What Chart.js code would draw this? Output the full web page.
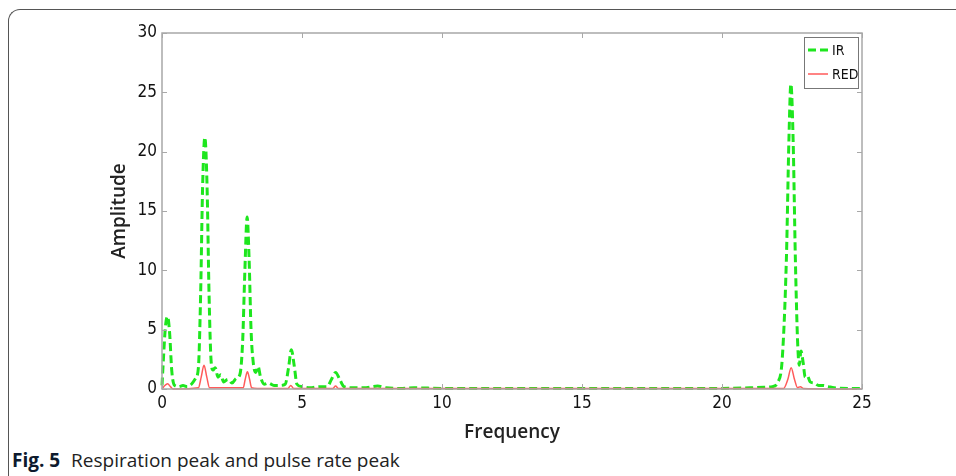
<!DOCTYPE html>
<html>
<head>
<meta charset="utf-8">
<script src="https://cdn.jsdelivr.net/npm/chart.js@4.4.1/dist/chart.umd.min.js"></script>
<style>
  body { margin: 0; background: #fff; width: 956px; height: 476px; overflow: hidden; position: relative; }
  #frame {
    position: absolute; left: 8px; top: 9px; width: 1000px; height: 520px;
    border-top: 1.5px solid #555; border-left: 1.5px solid #555;
    border-top-left-radius: 12px;
  }
  #wrap { position: absolute; left: 0; top: 0; }
  #caption {
    position: absolute; left: 12px; top: 447px;
    font-family: 'Open Sans', sans-serif; font-size: 19px; color: #222;
  }
  #caption b { color: #0d1a2e; margin-right: 6px; }
</style>
</head>
<body>
<div id="frame"></div>
<div id="wrap"><canvas id="fftChart" width="956" height="445"></canvas></div>
<div id="caption"><b>Fig. 5</b> Respiration peak and pulse rate peak</div>
<script>
// IR spectrum (green dashed)
const irFreq = [0, 0.05, 0.12, 0.2, 0.27, 0.35, 0.45, 0.6, 0.75, 0.9, 1.05, 1.2, 1.3, 1.38, 1.45, 1.53, 1.61, 1.68, 1.75, 1.82,
  1.9, 2.0, 2.1, 2.2, 2.35, 2.5, 2.65, 2.78, 2.88, 2.96, 3.04, 3.11, 3.18, 3.26, 3.35, 3.43, 3.52, 3.65, 3.8, 4.0,
  4.2, 4.4, 4.52, 4.62, 4.72, 4.82, 5.0, 5.3, 5.6, 5.9, 6.05, 6.2, 6.35, 6.5, 6.8, 7.2, 7.7, 8.0, 8.5, 9.0,
  10, 12, 15, 18, 20, 21, 21.5, 21.8, 22.0, 22.15, 22.3, 22.39, 22.46, 22.54, 22.62, 22.7, 22.76, 22.82, 22.9, 22.97,
  23.05, 23.15, 23.3, 23.45, 23.6, 23.8, 24.0, 24.5, 25];
const irAmp = [0.3, 2.5, 5.2, 6.1, 4.8, 1.5, 0.3, 0.2, 0.3, 0.2, 0.4, 0.9, 1.8, 8, 17, 21.2, 17, 8, 2.5, 1.6,
  1.8, 1.0, 1.2, 0.6, 0.8, 0.5, 0.9, 1.2, 4, 10, 14.5, 11, 5, 2.2, 1.4, 1.9, 1.0, 0.4, 0.5, 0.3,
  0.3, 0.4, 1.8, 3.3, 2.0, 0.4, 0.2, 0.1, 0.2, 0.2, 0.8, 1.4, 0.8, 0.2, 0.1, 0.1, 0.25, 0.1, 0.05, 0.1,
  0.05, 0.05, 0.05, 0.05, 0.05, 0.1, 0.15, 0.2, 0.6, 2.5, 11, 21, 25.7, 21, 11, 4, 2, 3.2, 2.2, 1.0,
  1.1, 0.6, 0.5, 0.3, 0.3, 0.2, 0.1, 0.05, 0.05];

// RED spectrum (red solid)
const redFreq = [0, 0.1, 0.2, 0.3, 0.4, 1.3, 1.4, 1.5, 1.6, 1.7, 2.9, 2.97, 3.05, 3.13, 3.2, 3.4, 4.5, 4.6, 4.7,
  6.1, 6.2, 6.3, 22.2, 22.35, 22.47, 22.59, 22.7, 22.8, 22.9, 25];
const redAmp = [0, 0.3, 0.45, 0.2, 0, 0.1, 1.0, 2.0, 1.0, 0.1, 0.1, 0.8, 1.45, 0.8, 0.1, 0.05, 0.05, 0.3, 0.05,
  0.05, 0.25, 0.05, 0.05, 0.8, 1.8, 0.8, 0.1, 0.2, 0.05, 0];

const xTicks = [0, 5, 10, 15, 20, 25];
const yTicks = [0, 5, 10, 15, 20, 25, 30];
const legendLabels = ['IR', 'RED'];

const tickFont = { family: "'DejaVu Sans Condensed', 'Liberation Sans Narrow', sans-serif", size: 17 };

const boxPlugin = {
  id: 'box',
  afterDraw(chart) {
    const { ctx, chartArea: a, scales: { x, y } } = chart;
    ctx.save();
    ctx.strokeStyle = '#a8a8a8';
    ctx.lineWidth = 1.5;
    ctx.strokeRect(a.left, a.top, a.right - a.left, a.bottom - a.top);
    ctx.lineWidth = 1;
    ctx.beginPath();
    xTicks.forEach(v => {
      const px = Math.round(x.getPixelForValue(v)) + 0.5;
      ctx.moveTo(px, a.bottom); ctx.lineTo(px, a.bottom - 5);
      ctx.moveTo(px, a.top); ctx.lineTo(px, a.top + 5);
    });
    yTicks.forEach(v => {
      const py = Math.round(y.getPixelForValue(v)) + 0.5;
      ctx.moveTo(a.left, py); ctx.lineTo(a.left + 5, py);
      ctx.moveTo(a.right, py); ctx.lineTo(a.right - 5, py);
    });
    ctx.stroke();

    // legend box in the top-right corner
    const lx = a.right - 58, ly = a.top + 4, lw = 54, lh = 51;
    ctx.fillStyle = '#fff';
    ctx.fillRect(lx, ly, lw, lh);
    ctx.strokeStyle = '#777';
    ctx.lineWidth = 1;
    ctx.strokeRect(lx + 0.5, ly + 0.5, lw, lh);
    chart.data.datasets.forEach((ds, i) => {
      const yy = ly + 13 + i * 24;
      ctx.strokeStyle = ds.borderColor;
      ctx.lineWidth = ds.borderWidth;
      ctx.setLineDash(ds.borderDash || []);
      ctx.beginPath();
      ctx.moveTo(lx + 4, yy); ctx.lineTo(lx + 24, yy);
      ctx.stroke();
      ctx.setLineDash([]);
      ctx.fillStyle = '#111';
      ctx.font = `14px ${tickFont.family}`;
      ctx.textBaseline = 'middle';
      ctx.fillText(legendLabels[i], lx + 28, yy + 1);
    });
    ctx.restore();
  }
};

const ctx = document.getElementById('fftChart').getContext('2d');
new Chart(ctx, {
  type: 'line',
  data: {
    datasets: [
      {
        label: legendLabels[0],
        data: irFreq.map((f, i) => ({ x: f, y: irAmp[i] })),
        borderColor: '#1ee61e',
        borderWidth: 3,
        borderDash: [8, 4],
        pointRadius: 0,
        cubicInterpolationMode: 'monotone',
        clip: false,
        order: 1
      },
      {
        label: legendLabels[1],
        data: redFreq.map((f, i) => ({ x: f, y: redAmp[i] })),
        borderColor: '#ff5a5a',
        borderWidth: 1.5,
        pointRadius: 0,
        cubicInterpolationMode: 'monotone',
        clip: false,
        order: 0
      }
    ]
  },
  options: {
    responsive: false,
    animation: false,
    devicePixelRatio: 1,
    layout: { padding: { left: 0, top: 33, right: 94, bottom: 0 } },
    plugins: { legend: { display: false }, tooltip: { enabled: false } },
    scales: {
      x: {
        type: 'linear',
        min: 0, max: 25,
        afterBuildTicks: s => { s.ticks = xTicks.map(v => ({ value: v })); },
        afterFit: s => { s.height = 56; },
        grid: { display: false, drawTicks: false },
        border: { display: false },
        ticks: { color: '#111', font: tickFont, padding: 4, maxRotation: 0 },
        title: {
          display: true, text: 'Frequency', color: '#222',
          font: { family: "'Open Sans', sans-serif", size: 19, weight: '600' },
          padding: { top: 0, bottom: 1 }
        }
      },
      y: {
        min: 0, max: 30,
        afterBuildTicks: s => { s.ticks = yTicks.map(v => ({ value: v })); },
        afterFit: s => { s.width = 162; },
        grid: { display: false, drawTicks: false },
        border: { display: false },
        ticks: { color: '#111', font: tickFont, padding: 5 },
        title: {
          display: true, text: 'Amplitude', color: '#222',
          font: { family: "'Open Sans', sans-serif", size: 19, weight: '600' },
          padding: { top: 108, bottom: 0 }
        }
      }
    }
  },
  plugins: [boxPlugin]
});
</script>
</body>
</html>
